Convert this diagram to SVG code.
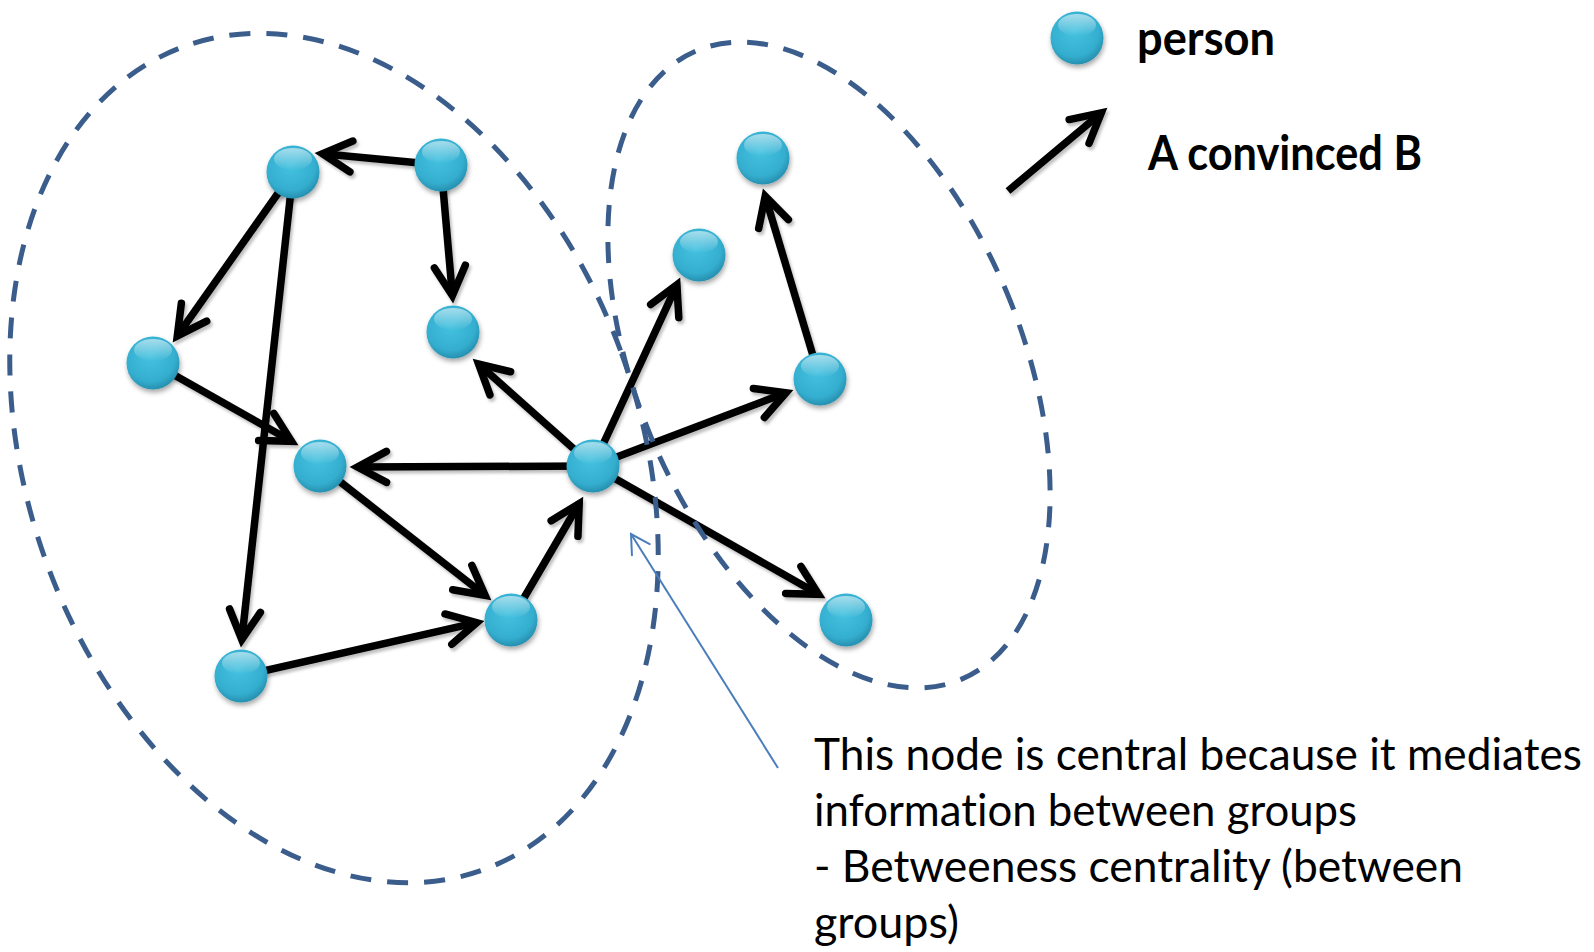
<svg xmlns="http://www.w3.org/2000/svg" xmlns:xlink="http://www.w3.org/1999/xlink" width="1594" height="952" viewBox="0 0 1594 952">
  <style>
    .edge { stroke: #000; stroke-width: 7.5; fill: none; marker-end: url(#chev); }
    .group { fill: none; stroke: #3a5d8c; stroke-width: 5; stroke-dasharray: 21 16; }
    .note { stroke: #4a7ebb; stroke-width: 2; fill: none; marker-end: url(#thin); }
    .legend { font-family: Lato, "Liberation Sans", sans-serif; font-weight: bold; font-size: 48px; fill: #000; font-variant-ligatures: none; }
    .body { font-family: Lato, "Liberation Sans", sans-serif; font-size: 45px; fill: #000; font-variant-ligatures: none; }
  </style>
  <defs>
    <radialGradient id="ballFill" cx="0.45" cy="0.38" r="0.62">
      <stop offset="0" stop-color="#45c2e0"/>
      <stop offset="0.75" stop-color="#34aecf"/>
      <stop offset="1" stop-color="#2790b0"/>
    </radialGradient>
    <linearGradient id="gloss" x1="0" y1="0" x2="0" y2="1">
      <stop offset="0" stop-color="#ffffff" stop-opacity="0.55"/>
      <stop offset="1" stop-color="#ffffff" stop-opacity="0"/>
    </linearGradient>
    <filter id="ballShadow" x="-40%" y="-40%" width="180%" height="190%">
      <feDropShadow dx="1" dy="3" stdDeviation="2.5" flood-color="#000" flood-opacity="0.35"/>
    </filter>
    <filter id="lineShadow" x="-10%" y="-10%" width="120%" height="120%">
      <feDropShadow dx="2" dy="3" stdDeviation="1.8" flood-color="#000" flood-opacity="0.25"/>
    </filter>
    <g id="person">
      <circle r="26.5" fill="url(#ballFill)" filter="url(#ballShadow)"/>
      <ellipse cx="0" cy="-13" rx="19" ry="11" fill="url(#gloss)"/>
    </g>
    <marker id="chev" markerUnits="userSpaceOnUse" viewBox="-40 -22 50 44" markerWidth="50" markerHeight="44" refX="0" refY="0" orient="auto" overflow="visible">
      <path d="M -29 -15.5 L 0 0 L -29 15.5" fill="none" stroke="#000" stroke-width="7.5" stroke-linecap="round" stroke-linejoin="miter"/>
    </marker>
    <marker id="thin" markerUnits="userSpaceOnUse" viewBox="-25 -15 30 30" markerWidth="30" markerHeight="30" refX="0" refY="0" orient="auto" overflow="visible">
      <path d="M -18.5 -10.5 L 0 0 L -18.5 10.5" fill="none" stroke="#4a7ebb" stroke-width="2" stroke-linecap="round"/>
    </marker>
  </defs>

  <rect width="1594" height="952" fill="#ffffff"/>

  <g id="connectors" filter="url(#lineShadow)">
    <line class="edge" x1="441" y1="165" x2="322.5" y2="153.7"/>
    <line class="edge" x1="293" y1="172" x2="177.3" y2="335.9"/>
    <line class="edge" x1="293" y1="172" x2="241.8" y2="639.5"/>
    <line class="edge" x1="441" y1="165" x2="452.4" y2="295.5"/>
    <line class="edge" x1="153" y1="363" x2="291.5" y2="441.3"/>
    <line class="edge" x1="593" y1="466" x2="357.5" y2="467"/>
    <line class="edge" x1="593" y1="466" x2="478.6" y2="364"/>
    <line class="edge" x1="593" y1="466" x2="676.9" y2="284.8"/>
    <line class="edge" x1="593" y1="466" x2="786" y2="392.7"/>
    <line class="edge" x1="593" y1="466" x2="818.5" y2="594.3"/>
    <line class="edge" x1="820" y1="379" x2="765.2" y2="196.2"/>
    <line class="edge" x1="320" y1="466" x2="485.1" y2="595.4"/>
    <line class="edge" x1="241" y1="676" x2="476.7" y2="622.7"/>
    <line class="edge" x1="511" y1="620" x2="579.2" y2="503.5"/>
  </g>

  <g id="nodes">
    <g id="node-a"><use xlink:href="#person" href="#person" x="293" y="172"/></g>
    <g id="node-b"><use xlink:href="#person" href="#person" x="441" y="165"/></g>
    <g id="node-c"><use xlink:href="#person" href="#person" x="153" y="363"/></g>
    <g id="node-d"><use xlink:href="#person" href="#person" x="453" y="332"/></g>
    <g id="node-e"><use xlink:href="#person" href="#person" x="320" y="466"/></g>
    <g id="node-f"><use xlink:href="#person" href="#person" x="593" y="466"/></g>
    <g id="node-g"><use xlink:href="#person" href="#person" x="511" y="620"/></g>
    <g id="node-h"><use xlink:href="#person" href="#person" x="241" y="676"/></g>
    <g id="node-i"><use xlink:href="#person" href="#person" x="699" y="255"/></g>
    <g id="node-j"><use xlink:href="#person" href="#person" x="763" y="158"/></g>
    <g id="node-k"><use xlink:href="#person" href="#person" x="820" y="379"/></g>
    <g id="node-l"><use xlink:href="#person" href="#person" x="846" y="620"/></g>
  </g>

  <g id="groups">
    <ellipse id="group-left" class="group" cx="334" cy="458" rx="306" ry="438" transform="rotate(-20 334 458)"/>
    <ellipse id="group-right" class="group" cx="829" cy="365" rx="192" ry="341" transform="rotate(-22.9 829 365)"/>
  </g>

  <g id="annotation">
    <line class="note" x1="778" y1="768" x2="631" y2="534"/>
    <text class="body" x="814" y="770" textLength="768" lengthAdjust="spacingAndGlyphs">This node is central because it mediates</text>
    <text class="body" x="814" y="826" textLength="543" lengthAdjust="spacingAndGlyphs">information between groups</text>
    <text class="body" x="814" y="882" textLength="649" lengthAdjust="spacingAndGlyphs">- Betweeness centrality (between</text>
    <text class="body" x="814" y="938" textLength="145" lengthAdjust="spacingAndGlyphs">groups)</text>
  </g>

  <g id="legend">
    <g id="legend-node"><use xlink:href="#person" href="#person" x="1077" y="38"/></g>
    <text class="legend" x="1137" y="55" textLength="138" lengthAdjust="spacingAndGlyphs">person</text>
    <g id="legend-arrow" filter="url(#lineShadow)">
      <line class="edge" x1="1008" y1="191" x2="1101.3" y2="112.8"/>
    </g>
    <text class="legend" x="1148" y="170" textLength="274" lengthAdjust="spacingAndGlyphs">A convinced B</text>
  </g>
</svg>
